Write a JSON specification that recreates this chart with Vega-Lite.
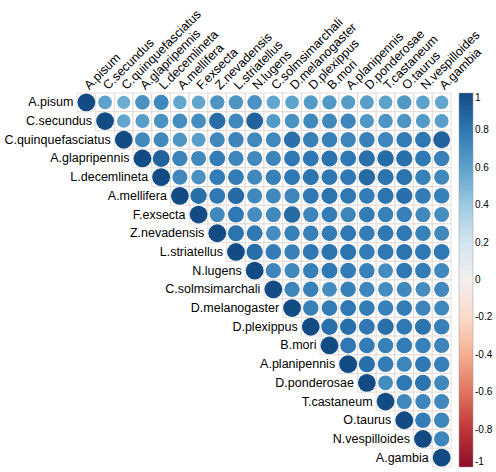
{
  "$schema": "https://vega.github.io/schema/vega-lite/v6.json",
  "width": 374,
  "height": 374,
  "autosize": {"type": "none"},
  "padding": {"left": 77, "top": 93, "right": 45, "bottom": 5},
  "background": "white",
  "config": {"view": {"stroke": null}, "font": "Liberation Sans"},
  "data": {
    "values": [
      {"a":"A.pisum","b":"A.pisum","r":1},{"a":"A.pisum","b":"C.secundus","r":0.60},{"a":"A.pisum","b":"C.quinquefasciatus","r":0.55},{"a":"A.pisum","b":"A.glapripennis","r":0.68},{"a":"A.pisum","b":"L.decemlineta","r":0.72},{"a":"A.pisum","b":"A.mellifera","r":0.58},{"a":"A.pisum","b":"F.exsecta","r":0.58},{"a":"A.pisum","b":"Z.nevadensis","r":0.66},{"a":"A.pisum","b":"L.striatellus","r":0.66},{"a":"A.pisum","b":"N.lugens","r":0.68},{"a":"A.pisum","b":"C.solmsimarchali","r":0.58},{"a":"A.pisum","b":"D.melanogaster","r":0.60},{"a":"A.pisum","b":"D.plexippus","r":0.64},{"a":"A.pisum","b":"B.mori","r":0.65},{"a":"A.pisum","b":"A.planipennis","r":0.63},{"a":"A.pisum","b":"D.ponderosae","r":0.62},{"a":"A.pisum","b":"T.castaneum","r":0.60},{"a":"A.pisum","b":"O.taurus","r":0.65},{"a":"A.pisum","b":"N.vespilloides","r":0.60},{"a":"A.pisum","b":"A.gambia","r":0.58},
      {"a":"C.secundus","b":"C.secundus","r":1},{"a":"C.secundus","b":"C.quinquefasciatus","r":0.58},{"a":"C.secundus","b":"A.glapripennis","r":0.62},{"a":"C.secundus","b":"L.decemlineta","r":0.68},{"a":"C.secundus","b":"A.mellifera","r":0.70},{"a":"C.secundus","b":"F.exsecta","r":0.70},{"a":"C.secundus","b":"Z.nevadensis","r":0.85},{"a":"C.secundus","b":"L.striatellus","r":0.72},{"a":"C.secundus","b":"N.lugens","r":0.90},{"a":"C.secundus","b":"C.solmsimarchali","r":0.64},{"a":"C.secundus","b":"D.melanogaster","r":0.68},{"a":"C.secundus","b":"D.plexippus","r":0.72},{"a":"C.secundus","b":"B.mori","r":0.72},{"a":"C.secundus","b":"A.planipennis","r":0.74},{"a":"C.secundus","b":"D.ponderosae","r":0.65},{"a":"C.secundus","b":"T.castaneum","r":0.67},{"a":"C.secundus","b":"O.taurus","r":0.66},{"a":"C.secundus","b":"N.vespilloides","r":0.64},{"a":"C.secundus","b":"A.gambia","r":0.62},
      {"a":"C.quinquefasciatus","b":"C.quinquefasciatus","r":1},{"a":"C.quinquefasciatus","b":"A.glapripennis","r":0.72},{"a":"C.quinquefasciatus","b":"L.decemlineta","r":0.72},{"a":"C.quinquefasciatus","b":"A.mellifera","r":0.66},{"a":"C.quinquefasciatus","b":"F.exsecta","r":0.62},{"a":"C.quinquefasciatus","b":"Z.nevadensis","r":0.72},{"a":"C.quinquefasciatus","b":"L.striatellus","r":0.75},{"a":"C.quinquefasciatus","b":"N.lugens","r":0.72},{"a":"C.quinquefasciatus","b":"C.solmsimarchali","r":0.72},{"a":"C.quinquefasciatus","b":"D.melanogaster","r":0.84},{"a":"C.quinquefasciatus","b":"D.plexippus","r":0.76},{"a":"C.quinquefasciatus","b":"B.mori","r":0.76},{"a":"C.quinquefasciatus","b":"A.planipennis","r":0.74},{"a":"C.quinquefasciatus","b":"D.ponderosae","r":0.76},{"a":"C.quinquefasciatus","b":"T.castaneum","r":0.74},{"a":"C.quinquefasciatus","b":"O.taurus","r":0.78},{"a":"C.quinquefasciatus","b":"N.vespilloides","r":0.80},{"a":"C.quinquefasciatus","b":"A.gambia","r":0.90},
      {"a":"A.glapripennis","b":"A.glapripennis","r":1},{"a":"A.glapripennis","b":"L.decemlineta","r":0.90},{"a":"A.glapripennis","b":"A.mellifera","r":0.75},{"a":"A.glapripennis","b":"F.exsecta","r":0.72},{"a":"A.glapripennis","b":"Z.nevadensis","r":0.78},{"a":"A.glapripennis","b":"L.striatellus","r":0.74},{"a":"A.glapripennis","b":"N.lugens","r":0.72},{"a":"A.glapripennis","b":"C.solmsimarchali","r":0.74},{"a":"A.glapripennis","b":"D.melanogaster","r":0.80},{"a":"A.glapripennis","b":"D.plexippus","r":0.80},{"a":"A.glapripennis","b":"B.mori","r":0.82},{"a":"A.glapripennis","b":"A.planipennis","r":0.80},{"a":"A.glapripennis","b":"D.ponderosae","r":0.84},{"a":"A.glapripennis","b":"T.castaneum","r":0.86},{"a":"A.glapripennis","b":"O.taurus","r":0.84},{"a":"A.glapripennis","b":"N.vespilloides","r":0.80},{"a":"A.glapripennis","b":"A.gambia","r":0.76},
      {"a":"L.decemlineta","b":"L.decemlineta","r":1},{"a":"L.decemlineta","b":"A.mellifera","r":0.72},{"a":"L.decemlineta","b":"F.exsecta","r":0.68},{"a":"L.decemlineta","b":"Z.nevadensis","r":0.78},{"a":"L.decemlineta","b":"L.striatellus","r":0.78},{"a":"L.decemlineta","b":"N.lugens","r":0.72},{"a":"L.decemlineta","b":"C.solmsimarchali","r":0.76},{"a":"L.decemlineta","b":"D.melanogaster","r":0.80},{"a":"L.decemlineta","b":"D.plexippus","r":0.82},{"a":"L.decemlineta","b":"B.mori","r":0.80},{"a":"L.decemlineta","b":"A.planipennis","r":0.80},{"a":"L.decemlineta","b":"D.ponderosae","r":0.86},{"a":"L.decemlineta","b":"T.castaneum","r":0.82},{"a":"L.decemlineta","b":"O.taurus","r":0.82},{"a":"L.decemlineta","b":"N.vespilloides","r":0.76},{"a":"L.decemlineta","b":"A.gambia","r":0.72},
      {"a":"A.mellifera","b":"A.mellifera","r":1},{"a":"A.mellifera","b":"F.exsecta","r":0.84},{"a":"A.mellifera","b":"Z.nevadensis","r":0.80},{"a":"A.mellifera","b":"L.striatellus","r":0.86},{"a":"A.mellifera","b":"N.lugens","r":0.72},{"a":"A.mellifera","b":"C.solmsimarchali","r":0.72},{"a":"A.mellifera","b":"D.melanogaster","r":0.74},{"a":"A.mellifera","b":"D.plexippus","r":0.80},{"a":"A.mellifera","b":"B.mori","r":0.82},{"a":"A.mellifera","b":"A.planipennis","r":0.80},{"a":"A.mellifera","b":"D.ponderosae","r":0.78},{"a":"A.mellifera","b":"T.castaneum","r":0.82},{"a":"A.mellifera","b":"O.taurus","r":0.84},{"a":"A.mellifera","b":"N.vespilloides","r":0.78},{"a":"A.mellifera","b":"A.gambia","r":0.76},
      {"a":"F.exsecta","b":"F.exsecta","r":1},{"a":"F.exsecta","b":"Z.nevadensis","r":0.72},{"a":"F.exsecta","b":"L.striatellus","r":0.80},{"a":"F.exsecta","b":"N.lugens","r":0.70},{"a":"F.exsecta","b":"C.solmsimarchali","r":0.72},{"a":"F.exsecta","b":"D.melanogaster","r":0.86},{"a":"F.exsecta","b":"D.plexippus","r":0.74},{"a":"F.exsecta","b":"B.mori","r":0.78},{"a":"F.exsecta","b":"A.planipennis","r":0.74},{"a":"F.exsecta","b":"D.ponderosae","r":0.78},{"a":"F.exsecta","b":"T.castaneum","r":0.76},{"a":"F.exsecta","b":"O.taurus","r":0.76},{"a":"F.exsecta","b":"N.vespilloides","r":0.72},{"a":"F.exsecta","b":"A.gambia","r":0.70},
      {"a":"Z.nevadensis","b":"Z.nevadensis","r":1},{"a":"Z.nevadensis","b":"L.striatellus","r":0.82},{"a":"Z.nevadensis","b":"N.lugens","r":0.80},{"a":"Z.nevadensis","b":"C.solmsimarchali","r":0.70},{"a":"Z.nevadensis","b":"D.melanogaster","r":0.76},{"a":"Z.nevadensis","b":"D.plexippus","r":0.76},{"a":"Z.nevadensis","b":"B.mori","r":0.78},{"a":"Z.nevadensis","b":"A.planipennis","r":0.80},{"a":"Z.nevadensis","b":"D.ponderosae","r":0.78},{"a":"Z.nevadensis","b":"T.castaneum","r":0.80},{"a":"Z.nevadensis","b":"O.taurus","r":0.80},{"a":"Z.nevadensis","b":"N.vespilloides","r":0.76},{"a":"Z.nevadensis","b":"A.gambia","r":0.72},
      {"a":"L.striatellus","b":"L.striatellus","r":1},{"a":"L.striatellus","b":"N.lugens","r":0.84},{"a":"L.striatellus","b":"C.solmsimarchali","r":0.78},{"a":"L.striatellus","b":"D.melanogaster","r":0.76},{"a":"L.striatellus","b":"D.plexippus","r":0.80},{"a":"L.striatellus","b":"B.mori","r":0.82},{"a":"L.striatellus","b":"A.planipennis","r":0.82},{"a":"L.striatellus","b":"D.ponderosae","r":0.78},{"a":"L.striatellus","b":"T.castaneum","r":0.80},{"a":"L.striatellus","b":"O.taurus","r":0.82},{"a":"L.striatellus","b":"N.vespilloides","r":0.80},{"a":"L.striatellus","b":"A.gambia","r":0.80},
      {"a":"N.lugens","b":"N.lugens","r":1},{"a":"N.lugens","b":"C.solmsimarchali","r":0.74},{"a":"N.lugens","b":"D.melanogaster","r":0.72},{"a":"N.lugens","b":"D.plexippus","r":0.76},{"a":"N.lugens","b":"B.mori","r":0.80},{"a":"N.lugens","b":"A.planipennis","r":0.78},{"a":"N.lugens","b":"D.ponderosae","r":0.76},{"a":"N.lugens","b":"T.castaneum","r":0.70},{"a":"N.lugens","b":"O.taurus","r":0.80},{"a":"N.lugens","b":"N.vespilloides","r":0.78},{"a":"N.lugens","b":"A.gambia","r":0.72},
      {"a":"C.solmsimarchali","b":"C.solmsimarchali","r":1},{"a":"C.solmsimarchali","b":"D.melanogaster","r":0.74},{"a":"C.solmsimarchali","b":"D.plexippus","r":0.76},{"a":"C.solmsimarchali","b":"B.mori","r":0.70},{"a":"C.solmsimarchali","b":"A.planipennis","r":0.76},{"a":"C.solmsimarchali","b":"D.ponderosae","r":0.74},{"a":"C.solmsimarchali","b":"T.castaneum","r":0.70},{"a":"C.solmsimarchali","b":"O.taurus","r":0.72},{"a":"C.solmsimarchali","b":"N.vespilloides","r":0.70},{"a":"C.solmsimarchali","b":"A.gambia","r":0.72},
      {"a":"D.melanogaster","b":"D.melanogaster","r":1},{"a":"D.melanogaster","b":"D.plexippus","r":0.76},{"a":"D.melanogaster","b":"B.mori","r":0.78},{"a":"D.melanogaster","b":"A.planipennis","r":0.80},{"a":"D.melanogaster","b":"D.ponderosae","r":0.78},{"a":"D.melanogaster","b":"T.castaneum","r":0.76},{"a":"D.melanogaster","b":"O.taurus","r":0.78},{"a":"D.melanogaster","b":"N.vespilloides","r":0.74},{"a":"D.melanogaster","b":"A.gambia","r":0.72},
      {"a":"D.plexippus","b":"D.plexippus","r":1},{"a":"D.plexippus","b":"B.mori","r":0.84},{"a":"D.plexippus","b":"A.planipennis","r":0.84},{"a":"D.plexippus","b":"D.ponderosae","r":0.80},{"a":"D.plexippus","b":"T.castaneum","r":0.84},{"a":"D.plexippus","b":"O.taurus","r":0.80},{"a":"D.plexippus","b":"N.vespilloides","r":0.82},{"a":"D.plexippus","b":"A.gambia","r":0.76},
      {"a":"B.mori","b":"B.mori","r":1},{"a":"B.mori","b":"A.planipennis","r":0.80},{"a":"B.mori","b":"D.ponderosae","r":0.78},{"a":"B.mori","b":"T.castaneum","r":0.76},{"a":"B.mori","b":"O.taurus","r":0.78},{"a":"B.mori","b":"N.vespilloides","r":0.76},{"a":"B.mori","b":"A.gambia","r":0.74},
      {"a":"A.planipennis","b":"A.planipennis","r":1},{"a":"A.planipennis","b":"D.ponderosae","r":0.84},{"a":"A.planipennis","b":"T.castaneum","r":0.78},{"a":"A.planipennis","b":"O.taurus","r":0.74},{"a":"A.planipennis","b":"N.vespilloides","r":0.80},{"a":"A.planipennis","b":"A.gambia","r":0.76},
      {"a":"D.ponderosae","b":"D.ponderosae","r":1},{"a":"D.ponderosae","b":"T.castaneum","r":0.70},{"a":"D.ponderosae","b":"O.taurus","r":0.80},{"a":"D.ponderosae","b":"N.vespilloides","r":0.82},{"a":"D.ponderosae","b":"A.gambia","r":0.72},
      {"a":"T.castaneum","b":"T.castaneum","r":1},{"a":"T.castaneum","b":"O.taurus","r":0.72},{"a":"T.castaneum","b":"N.vespilloides","r":0.74},{"a":"T.castaneum","b":"A.gambia","r":0.72},
      {"a":"O.taurus","b":"O.taurus","r":1},{"a":"O.taurus","b":"N.vespilloides","r":0.78},{"a":"O.taurus","b":"A.gambia","r":0.74},
      {"a":"N.vespilloides","b":"N.vespilloides","r":1},{"a":"N.vespilloides","b":"A.gambia","r":0.74},
      {"a":"A.gambia","b":"A.gambia","r":1}
    ]
  },
  "encoding": {
    "x": {
      "field": "b",
      "type": "nominal",
      "scale": {
        "domain": ["A.pisum","C.secundus","C.quinquefasciatus","A.glapripennis","L.decemlineta","A.mellifera","F.exsecta","Z.nevadensis","L.striatellus","N.lugens","C.solmsimarchali","D.melanogaster","D.plexippus","B.mori","A.planipennis","D.ponderosae","T.castaneum","O.taurus","N.vespilloides","A.gambia"],
        "paddingInner": 0,
        "paddingOuter": 0
      },
      "axis": {
        "orient": "top",
        "title": null,
        "domain": false,
        "ticks": false,
        "labelAngle": -45,
        "labelAlign": "left",
        "labelBaseline": "middle",
        "labelPadding": 6,
        "labelFontSize": 12.5,
        "labelColor": "black",
        "labelFont": "Liberation Sans"
      }
    },
    "y": {
      "field": "a",
      "type": "nominal",
      "scale": {
        "domain": ["A.pisum","C.secundus","C.quinquefasciatus","A.glapripennis","L.decemlineta","A.mellifera","F.exsecta","Z.nevadensis","L.striatellus","N.lugens","C.solmsimarchali","D.melanogaster","D.plexippus","B.mori","A.planipennis","D.ponderosae","T.castaneum","O.taurus","N.vespilloides","A.gambia"],
        "paddingInner": 0,
        "paddingOuter": 0
      },
      "axis": null
    }
  },
  "layer": [
    {
      "mark": {"type": "rect", "fill": "white", "stroke": "#ddd5cf", "strokeWidth": 0.8}
    },
    {
      "mark": {"type": "point", "filled": true, "opacity": 1, "shape": "circle"},
      "encoding": {
        "size": {
          "field": "r",
          "type": "quantitative",
          "scale": {"domain": [0, 1], "range": [0, 316]},
          "legend": null
        },
        "color": {
          "field": "r",
          "type": "quantitative",
          "scale": {"domain": [-1, 1], "scheme": "redblue"},
          "legend": {
            "orient": "none",
            "legendX": 382,
            "legendY": 0,
            "direction": "vertical",
            "title": null,
            "gradientLength": 374,
            "gradientThickness": 14,
            "gradientStrokeColor": "#999999",
            "gradientStrokeWidth": 0.5,
            "values": [-1, -0.8, -0.6, -0.4, -0.2, 0, 0.2, 0.4, 0.6, 0.8, 1],
            "labelExpr": "datum.value",
            "labelAlign": "left",
            "labelBaseline": "middle",
            "labelOffset": 2,
            "labelFontSize": 10,
            "labelColor": "black",
            "labelFont": "Liberation Sans"
          }
        }
      }
    },
    {
      "transform": [{"filter": "datum.a === datum.b"}],
      "mark": {"type": "text", "align": "right", "baseline": "middle", "dx": -13, "fontSize": 12.5, "font": "Liberation Sans", "color": "black"},
      "encoding": {"text": {"field": "a", "type": "nominal"}}
    }
  ]
}
